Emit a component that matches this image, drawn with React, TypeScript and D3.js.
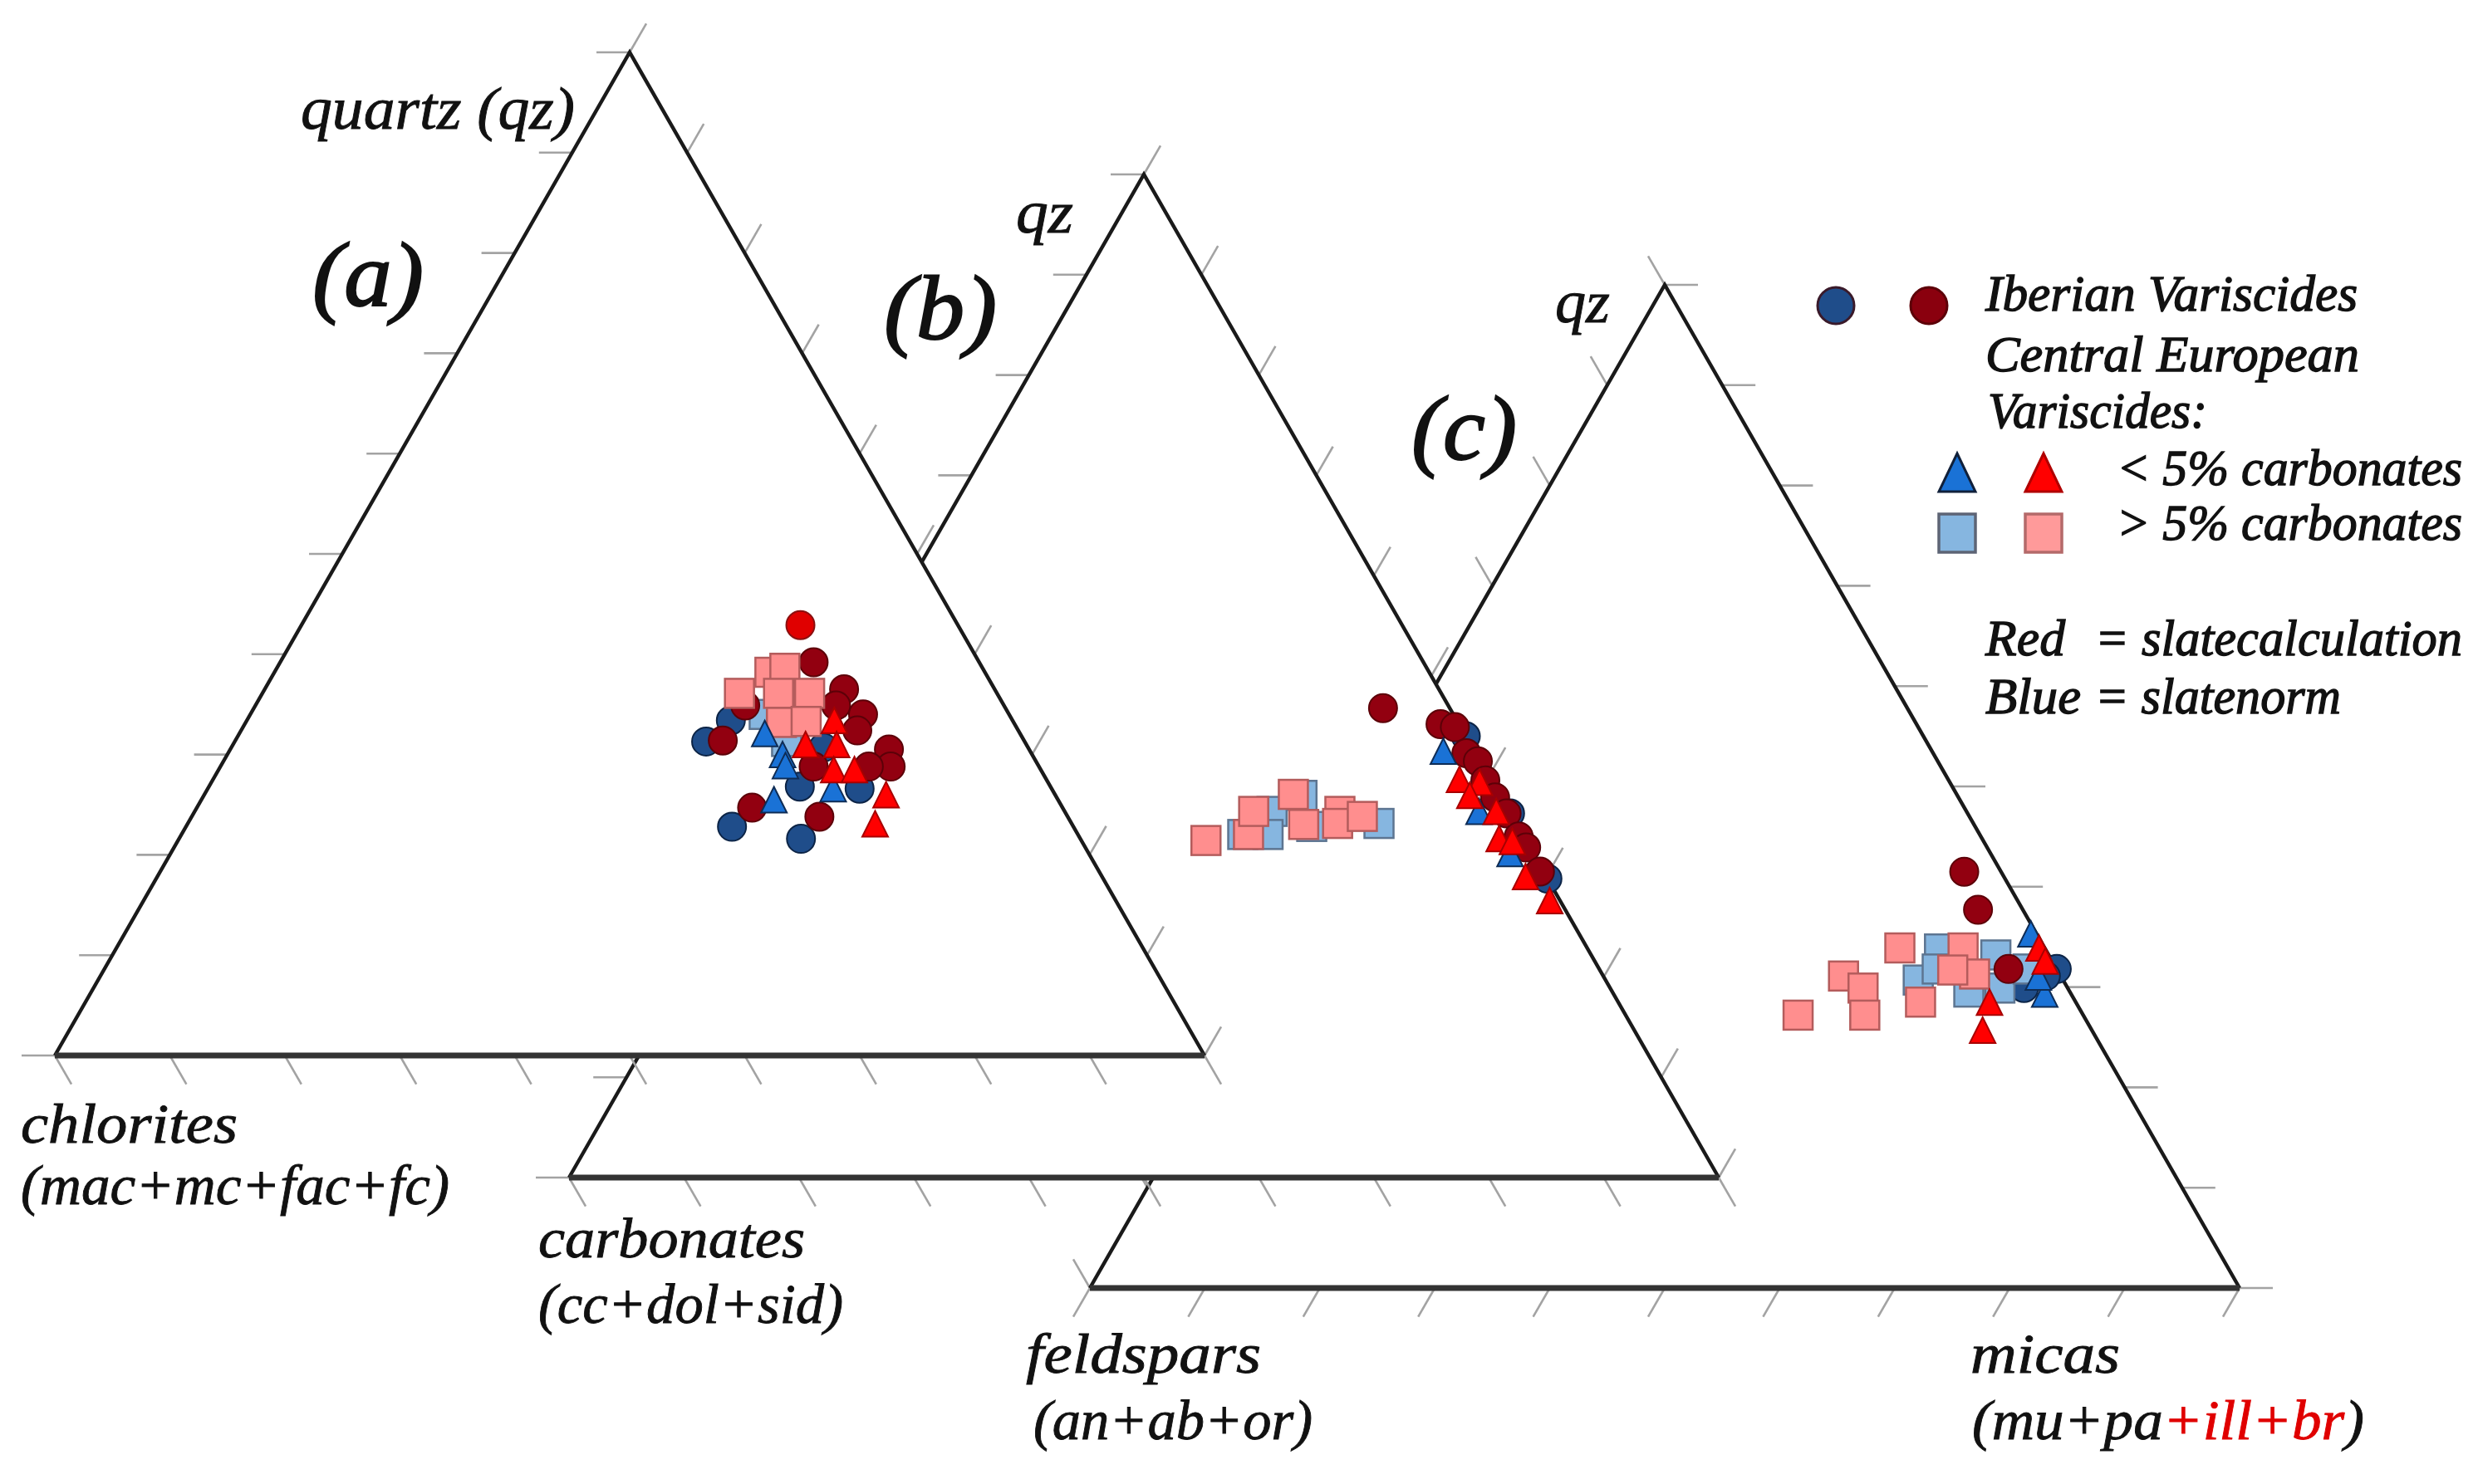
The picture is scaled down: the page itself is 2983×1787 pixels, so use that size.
import React from 'react';
import * as d3 from 'd3';

const W = 2983;
const H = 1787;

// Each point: [qz %, left-vertex %]; right vertex (micas) = 100 - qz - left
type Pt = [number, number];

// (a) quartz – chlorites – micas
const aBlueCircles: Pt[] = [[31.3, 27.7], [33.4, 24.5], [26.8, 21.8], [26.6, 16.7], [22.8, 29.7], [21.6, 24.3], [30.7, 17.8]];
const aBlueSquares: Pt[] = [[34.0, 21.3], [31.3, 20.7]];
const aRedCircles: Pt[] = [[39.2, 14.4], [31.4, 26.2], [34.9, 22.5], [36.5, 13.1], [34.9, 14.6], [34.0, 12.7], [32.4, 14.0], [30.5, 12.2], [28.8, 12.9], [28.8, 14.8], [28.8, 19.6], [24.7, 27.0], [23.8, 21.6]];
const aBrightCircles: Pt[] = [[42.9, 13.7]];
const aPinkSquares: Pt[] = [[38.2, 18.7], [38.6, 17.2], [36.1, 22.4], [36.1, 19.0], [36.1, 16.3], [33.2, 20.2], [33.3, 18.0]];
const aBlueTriangles: Pt[] = [[30.0, 21.7], [28.9, 22.0], [26.6, 19.0], [25.5, 24.7], [32.1, 22.2]];
const aRedTriangles: Pt[] = [[33.4, 15.5], [31.0, 19.2], [31.0, 16.5], [28.5, 18.0], [28.5, 16.2], [26.0, 14.7], [23.1, 17.1]];

// (b) qz – carbonates – micas
const bBlueCircles: Pt[] = [[44.0, 0], [36.3, 0], [29.8, 0]];
const bBlueSquares: Pt[] = [[36.5, 20.6], [34.2, 22.1], [34.2, 24.3], [38.1, 17.2], [35.0, 17.9], [35.3, 11.9]];
const bRedCircles: Pt[] = [[46.8, 5.8], [45.2, 1.6], [44.9, 0.5], [42.3, 0.8], [41.5, 0.2], [39.6, 0.5], [37.9, 0.5], [36.3, 0.3], [34.0, 0.4], [32.9, 0.3], [30.5, 0.3]];
const bBrightCircles: Pt[] = [];
const bPinkSquares: Pt[] = [[33.6, 27.8], [34.2, 23.8], [36.5, 22.2], [38.2, 17.9], [35.2, 18.5], [36.5, 14.7], [35.3, 15.5], [36.0, 13.0]];
const bBlueTriangles: Pt[] = [[42.5, 2.7], [36.5, 2.6], [32.3, 2.0]];
const bRedTriangles: Pt[] = [[39.7, 2.7], [39.4, 1.1], [38.1, 2.6], [36.5, 1.1], [33.8, 2.2], [33.5, 1.2], [30.0, 1.8], [27.6, 0.9]];

// (c) qz – feldspars – micas
const cBlueCircles: Pt[] = [[29.9, 3.8], [31.8, 0], [31.1, 1.3]];
const cBlueSquares: Pt[] = [[33.8, 9.2], [30.7, 12.6], [29.5, 8.8], [33.2, 4.6], [29.9, 5.9], [31.8, 2.5], [31.8, 10.4]];
const cRedCircles: Pt[] = [[41.5, 3.2], [37.7, 3.9], [31.8, 4.2]];
const cBrightCircles: Pt[] = [];
const cPinkSquares: Pt[] = [[33.9, 12.6], [31.1, 18.9], [29.9, 17.8], [27.2, 24.8], [27.2, 19.0], [28.5, 13.5], [33.9, 7.1], [31.3, 7.4], [31.7, 9.1]];
const cBlueTriangles: Pt[] = [[35.3, 0.5], [29.3, 2.3], [31.0, 2.0]];
const cRedTriangles: Pt[] = [[33.9, 0.5], [32.6, 0.6], [28.5, 7.5], [25.7, 9.5]];

const tickValues = d3.range(0, 101, 10);

const C = {
  blueCircle: '#1f4d8a', blueCircleStroke: '#0c2446',
  redCircle: '#920010', redCircleStroke: '#5c0008',
  brightCircle: '#e00000',
  redTri: '#ff0000', redTriStroke: '#a80000',
  blueTri: '#1a72d6', blueTriStroke: '#0e2c55',
  pinkSq: '#ff8e8e', pinkSqStroke: '#b45c5c',
  blueSq: '#86b6e0', blueSqStroke: '#5d7591',
};

interface Series {
  blueCircles: Pt[]; blueSquares: Pt[]; redCircles: Pt[]; brightCircles: Pt[];
  pinkSquares: Pt[]; blueTriangles: Pt[]; redTriangles: Pt[];
}

interface PanelProps {
  blX: number; blY: number; side: number; height: number; mirror: boolean; data: Series;
}

const triPath = (w: number, h: number) => `M0,${-h / 2}L${w / 2},${h / 2}L${-w / 2},${h / 2}Z`;

function Panel({ blX, blY, side, height, mirror, data }: PanelProps) {
  const xs = d3.scaleLinear().domain([0, 100]).range([blX, blX + side]);
  const ys = d3.scaleLinear().domain([0, 100]).range([blY, blY - height]);
  const proj = (p: Pt): [number, number] => {
    const q = p[0];
    const r = 100 - p[0] - p[1];
    return [xs(r + q / 2), ys(q)];
  };
  const apex = proj([100, 0]);
  const bl = proj([0, 100]);
  const br = proj([0, 0]);
  const L = 40;
  const dirLeft: [number, number] = mirror ? [-0.5, -0.866] : [-1, 0];
  const dirBottom: [number, number] = mirror ? [-0.5, 0.866] : [0.5, 0.866];
  const dirRight: [number, number] = mirror ? [1, 0] : [0.5, -0.866];
  const ticks: { p: [number, number]; d: [number, number] }[] = [];
  tickValues.forEach((t) => {
    ticks.push({ p: proj([t, 100 - t]), d: dirLeft });
    ticks.push({ p: proj([0, 100 - t]), d: dirBottom });
    ticks.push({ p: proj([t, 0]), d: dirRight });
  });
  const line = d3.line();
  const S = 35;
  const R = 17;
  return (
    <g>
      <path d={line([apex, bl, br])! + 'Z'} fill="#fff" stroke="none" />
      {ticks.map((tk, i) => (
        <line key={i} x1={tk.p[0]} y1={tk.p[1]} x2={tk.p[0] + tk.d[0] * L} y2={tk.p[1] + tk.d[1] * L}
          stroke="#a3a3a3" strokeWidth={2.6} />
      ))}
      <path d={line([bl, apex, br])!} fill="none" stroke="#1a1a1a" strokeWidth={4.4} strokeLinejoin="miter" />
      <path d={line([bl, br])!} fill="none" stroke="#333" strokeWidth={7} />
      {data.blueCircles.map((p, i) => { const [x, y] = proj(p); return <circle key={'bc' + i} cx={x} cy={y} r={R} fill={C.blueCircle} stroke={C.blueCircleStroke} strokeWidth={2} />; })}
      {data.blueSquares.map((p, i) => { const [x, y] = proj(p); return <rect key={'bs' + i} x={x - S / 2} y={y - S / 2} width={S} height={S} fill={C.blueSq} stroke={C.blueSqStroke} strokeWidth={2.5} />; })}
      {data.redCircles.map((p, i) => { const [x, y] = proj(p); return <circle key={'rc' + i} cx={x} cy={y} r={R} fill={C.redCircle} stroke={C.redCircleStroke} strokeWidth={2} />; })}
      {data.brightCircles.map((p, i) => { const [x, y] = proj(p); return <circle key={'br' + i} cx={x} cy={y} r={R} fill={C.brightCircle} stroke="#8a1010" strokeWidth={2} />; })}
      {data.pinkSquares.map((p, i) => { const [x, y] = proj(p); return <rect key={'ps' + i} x={x - S / 2} y={y - S / 2} width={S} height={S} fill={C.pinkSq} stroke={C.pinkSqStroke} strokeWidth={2.5} />; })}
      {data.blueTriangles.map((p, i) => { const [x, y] = proj(p); return <path key={'bt' + i} d={triPath(31, 31)} transform={`translate(${x},${y})`} fill={C.blueTri} stroke={C.blueTriStroke} strokeWidth={2} />; })}
      {data.redTriangles.map((p, i) => { const [x, y] = proj(p); return <path key={'rt' + i} d={triPath(31, 31)} transform={`translate(${x},${y})`} fill={C.redTri} stroke={C.redTriStroke} strokeWidth={2} />; })}
    </g>
  );
}

const SIDE = 1384;
const HT = 1208;
const font = '"Liberation Serif", "DejaVu Serif", serif';

function Label({ x, y, size, width, children, bold }: { x: number; y: number; size: number; width?: number; children: React.ReactNode; bold?: number }) {
  return (
    <text x={x} y={y} fontFamily={font} fontStyle="italic" fontSize={size} fill="#111"
      stroke="#111" strokeWidth={bold ?? 0.9}
      textLength={width} lengthAdjust={width ? 'spacingAndGlyphs' : undefined}>
      {children}
    </text>
  );
}

export default function App() {
  const dataA: Series = { blueCircles: aBlueCircles, blueSquares: aBlueSquares, redCircles: aRedCircles, brightCircles: aBrightCircles, pinkSquares: aPinkSquares, blueTriangles: aBlueTriangles, redTriangles: aRedTriangles };
  const dataB: Series = { blueCircles: bBlueCircles, blueSquares: bBlueSquares, redCircles: bRedCircles, brightCircles: bBrightCircles, pinkSquares: bPinkSquares, blueTriangles: bBlueTriangles, redTriangles: bRedTriangles };
  const dataC: Series = { blueCircles: cBlueCircles, blueSquares: cBlueSquares, redCircles: cRedCircles, brightCircles: cBrightCircles, pinkSquares: cPinkSquares, blueTriangles: cBlueTriangles, redTriangles: cRedTriangles };
  return (
    <svg width={W} height={H} viewBox={`0 0 ${W} ${H}`} style={{ position: 'absolute', left: 0, top: 0, background: '#fff' }}>
      <rect x={0} y={0} width={W} height={H} fill="#fff" />
      <Panel blX={1312} blY={1551} side={SIDE} height={HT} mirror={true} data={dataC} />
      <Panel blX={685} blY={1418} side={SIDE} height={HT} mirror={false} data={dataB} />
      <Panel blX={66} blY={1271} side={SIDE} height={HT} mirror={false} data={dataA} />

      <Label x={362} y={155} size={72} width={330}>quartz (qz)</Label>
      <Label x={376} y={368} size={110} width={134} bold={2}>(a)</Label>
      <Label x={1223} y={280} size={72} width={69}>qz</Label>
      <Label x={1064} y={408} size={110} width={136} bold={2}>(b)</Label>
      <Label x={1872} y={388} size={72} width={66}>qz</Label>
      <Label x={1699} y={553} size={110} width={127} bold={2}>(c)</Label>

      <Label x={25} y={1376} size={68} width={261}>chlorites</Label>
      <Label x={25} y={1450} size={68} width={516}>(mac+mc+fac+fc)</Label>
      <Label x={648} y={1514} size={68} width={321}>carbonates</Label>
      <Label x={648} y={1593} size={68} width={367}>(cc+dol+sid)</Label>
      <Label x={1235} y={1653} size={68} width={283}>feldspars</Label>
      <Label x={1244} y={1733} size={68} width={336}>(an+ab+or)</Label>
      <Label x={2372} y={1653} size={68} width={180}>micas</Label>
      <Label x={2374} y={1733} size={68} width={472}>
        (mu+pa<tspan fill="#e00000" stroke="#e00000">+ill+br</tspan>)
      </Label>

      {/* legend */}
      <circle cx={2210} cy={368} r={22} fill={C.blueCircle} stroke="#3a1a2a" strokeWidth={3} />
      <circle cx={2322} cy={368} r={22} fill="#8a000e" stroke="#5c0008" strokeWidth={3} />
      <Label x={2390} y={374} size={62} width={448} bold={1.4}>Iberian Variscides</Label>
      <Label x={2390} y={447} size={62} width={450} bold={1.4}>Central European</Label>
      <Label x={2393} y={515} size={62} width={264} bold={1.4}>Variscides:</Label>
      <path d={triPath(44, 46)} transform="translate(2356,569)" fill={C.blueTri} stroke="#10203a" strokeWidth={3} />
      <path d={triPath(44, 46)} transform="translate(2460,569)" fill={C.redTri} stroke="#b00000" strokeWidth={3} />
      <Label x={2548} y={584} size={62} width={416} bold={1.4}>&lt; 5% carbonates</Label>
      <rect x={2356 - 22} y={642 - 23} width={44} height={46} fill={C.blueSq} stroke="#5d6475" strokeWidth={3.5} />
      <rect x={2460 - 22} y={642 - 23} width={44} height={46} fill="#ff9a9a" stroke="#b46a6a" strokeWidth={3.5} />
      <Label x={2548} y={650} size={62} width={416} bold={1.4}>&gt; 5% carbonates</Label>
      <Label x={2390} y={789} size={62} width={96} bold={1.4}>Red</Label>
      <Label x={2522} y={789} size={62} width={442} bold={1.4}>= slatecalculation</Label>
      <Label x={2390} y={859} size={62} width={115} bold={1.4}>Blue</Label>
      <Label x={2522} y={859} size={62} width={296} bold={1.4}>= slatenorm</Label>
    </svg>
  );
}
